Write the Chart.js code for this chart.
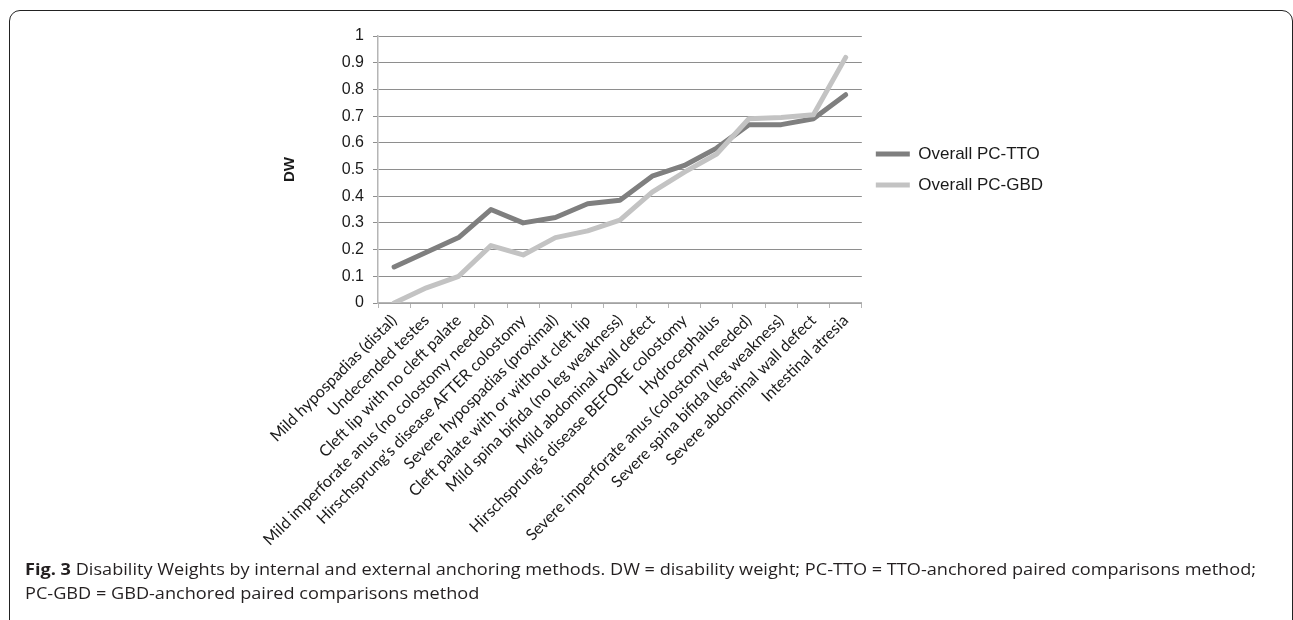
<!DOCTYPE html>
<html>
<head>
<meta charset="utf-8">
<script src="https://cdn.jsdelivr.net/npm/chart.js@4"></script>
<style>
  html, body { margin: 0; padding: 0; background: #fff; }
  body { width: 1293px; height: 620px; position: relative; overflow: hidden; }
  #frame {
    position: absolute; left: 9px; top: 10px; width: 1284px; height: 630px;
    border: 1.5px solid #222; border-radius: 11px; box-sizing: border-box;
  }
  #chartBox { position: absolute; left: 0; top: 0; width: 1293px; height: 560px; }
  #caption {
    position: absolute; left: 25px; top: 557px; white-space: nowrap;
    font-family: "Open Sans", sans-serif; font-size: 15.5px; line-height: 24px;
    color: #231f20; transform-origin: 0 0;
  }
  #caption b { font-weight: 700; }
</style>
</head>
<body>
<div id="frame"></div>
<div id="chartBox"><canvas id="dwChart"></canvas></div>
<div id="caption"><span id="capLine1"><b>Fig. 3</b> Disability Weights by internal and external anchoring methods. DW = disability weight; PC-TTO = TTO-anchored paired comparisons method;</span><br><span>PC-GBD = GBD-anchored paired comparisons method</span></div>

<script>
// Conditions along the x axis
const conditions = [
    'Mild hypospadias (distal)',
    'Undecended testes',
    'Cleft lip with no cleft palate',
    'Mild imperforate anus (no colostomy needed)',
    "Hirschsprung's disease AFTER colostomy",
    'Severe hypospadias (proximal)',
    'Cleft palate with or without cleft lip',
    'Mild spina bifida (no leg weakness)',
    'Mild abdominal wall defect',
    "Hirschsprung's disease BEFORE colostomy",
    'Hydrocephalus',
    'Severe imperforate anus (colostomy needed)',
    'Severe spina bifida (leg weakness)',
    'Severe abdominal wall defect',
    'Intestinal atresia'
];

// Disability weights
const pcTto = [0.135, 0.19, 0.245, 0.35, 0.30, 0.32, 0.372, 0.385, 0.475, 0.515, 0.58, 0.668, 0.668, 0.69, 0.78];
const pcGbd = [0.0, 0.057, 0.10, 0.215, 0.18, 0.245, 0.27, 0.31, 0.415, 0.49, 0.558, 0.69, 0.695, 0.705, 0.92];

const yTicks = [0, 0.1, 0.2, 0.3, 0.4, 0.5, 0.6, 0.7, 0.8, 0.9, 1];

document.addEventListener('DOMContentLoaded', function() {
    // fit the narrow caption font to the figure width
    const cap = document.getElementById('caption');
    const line1 = document.getElementById('capLine1');
    cap.style.transform = 'scaleX(' + (1231 / line1.getBoundingClientRect().width) + ')';

    const ctx = document.getElementById('dwChart');
    new Chart(ctx, {
        type: 'line',
        data: {
            labels: conditions,
            datasets: [{
                label: 'Overall PC-TTO',
                data: pcTto,
                borderColor: '#7f7f7f',
                backgroundColor: '#7f7f7f',
                borderWidth: 5,
                borderCapStyle: 'round',
                borderJoinStyle: 'round',
                pointRadius: 0,
                tension: 0,
                order: 1
            }, {
                label: 'Overall PC-GBD',
                data: pcGbd,
                borderColor: '#c3c3c3',
                backgroundColor: '#c3c3c3',
                borderWidth: 5,
                borderCapStyle: 'round',
                borderJoinStyle: 'round',
                pointRadius: 0,
                tension: 0,
                order: 0
            }]
        },
        options: {
            responsive: true,
            maintainAspectRatio: false,
            animation: false,
            layout: {
                padding: { left: 277, top: 36, right: 240, bottom: 0 }
            },
            scales: {
                x: {
                    offset: true,
                    grid: {
                        offset: true,
                        drawOnChartArea: false,
                        drawTicks: true,
                        tickLength: 5,
                        color: '#b5b5b5'
                    },
                    border: { color: '#b5b5b5', width: 1.5 },
                    ticks: {
                        autoSkip: false,
                        maxRotation: 45,
                        minRotation: 45,
                        padding: 3,
                        color: '#1a1a1a',
                        font: { family: 'Lato', size: 16 }
                    },
                    afterFit: function(scale) { scale.height = 257; }
                },
                y: {
                    min: 0,
                    max: 1,
                    afterBuildTicks: function(scale) {
                        scale.ticks = yTicks.map(v => ({ value: v }));
                    },
                    grid: {
                        color: '#8e8e8e',
                        lineWidth: 1,
                        tickLength: 5
                    },
                    border: { color: '#b5b5b5', width: 1.5 },
                    ticks: {
                        padding: 9,
                        color: '#1a1a1a',
                        font: { family: 'Liberation Sans', size: 16 },
                        callback: v => String(v)
                    },
                    title: {
                        display: true,
                        text: 'DW',
                        color: '#1a1a1a',
                        font: { family: 'Liberation Sans', size: 15, weight: 'bold' }
                    },
                    afterFit: function(scale) { scale.width = 101; }
                }
            },
            plugins: {
                legend: {
                    position: 'right',
                    fullSize: false,
                    labels: {
                        usePointStyle: true,
                        pointStyle: 'line',
                        pointStyleWidth: 34,
                        padding: 14,
                        color: '#1a1a1a',
                        font: { family: 'Liberation Sans', size: 17 },
                        sort: (a, b) => a.datasetIndex - b.datasetIndex
                    }
                },
                tooltip: { enabled: false }
            }
        }
    });
});
</script>
</body>
</html>
